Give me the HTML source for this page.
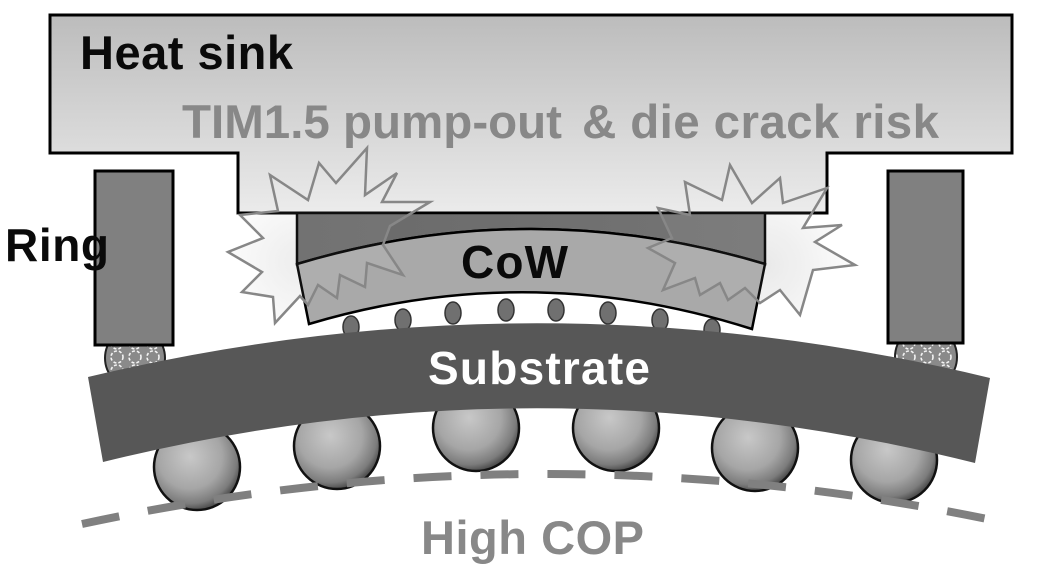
<!DOCTYPE html>
<html>
<head>
<meta charset="utf-8">
<style>
  html,body{margin:0;padding:0;background:#ffffff;}
  svg{display:block;}
  text{font-family:"Liberation Sans",Arial,sans-serif;font-weight:bold;}
</style>
</head>
<body>
<svg width="1043" height="568" viewBox="0 0 1043 568" xmlns="http://www.w3.org/2000/svg">
  <defs>
    <linearGradient id="hs" gradientUnits="userSpaceOnUse" x1="0" y1="15" x2="0" y2="213">
      <stop offset="0" stop-color="#bcbcbc"/>
      <stop offset="1" stop-color="#ebebeb"/>
    </linearGradient>
    <radialGradient id="ball" cx="0.42" cy="0.38" r="0.62">
      <stop offset="0" stop-color="#c8c8c8"/>
      <stop offset="0.6" stop-color="#a6a6a6"/>
      <stop offset="0.88" stop-color="#7c7c7c"/>
      <stop offset="1" stop-color="#505050"/>
    </radialGradient>
    <radialGradient id="bl" gradientUnits="userSpaceOnUse" cx="300" cy="262" r="80">
      <stop offset="0" stop-color="#ececec"/>
      <stop offset="1" stop-color="#fdfdfd"/>
    </radialGradient>
    <radialGradient id="br" gradientUnits="userSpaceOnUse" cx="765" cy="265" r="90">
      <stop offset="0" stop-color="#e8e8e8"/>
      <stop offset="1" stop-color="#fdfdfd"/>
    </radialGradient>
    <linearGradient id="die" x1="0" y1="0" x2="1" y2="0">
      <stop offset="0" stop-color="#6a6a6a"/>
      <stop offset="1" stop-color="#747474"/>
    </linearGradient>
    <pattern id="chk" patternUnits="userSpaceOnUse" width="18" height="14">
      <rect width="18" height="14" fill="#8a8a8a"/>
      <circle cx="9" cy="7" r="6" fill="none" stroke="#f4f4f4" stroke-width="1.6" stroke-dasharray="3 2"/>
    </pattern>
  </defs>

  <!-- burst fills (behind) -->
  <polygon fill="url(#bl)" points="430,202 390,226 383,245 403,275 367,263 365,287 340,275 337,298 318,285 308,305 300,296 275,323 273,297 242,292 262,272 228,252 263,238 240,215 278,211 270,175 308,200 319,163 336,183 367,148 365,195 397,173 382,202"/>
  <polygon fill="url(#br)" points="685,182 722,200 730,165 752,203 780,178 783,203 827,188 803,228 842,225 815,242 855,265 813,270 800,315 780,290 760,303 745,288 728,300 720,283 700,295 695,278 663,290 675,263 648,248 672,238 658,208 690,215"/>

  <!-- heat sink -->
  <path d="M50,15 H1012 V153 H827 V213 H238 V153 H50 Z" fill="url(#hs)" stroke="#000" stroke-width="3" stroke-linejoin="miter"/>

  <!-- ring small balls -->
  <circle cx="135" cy="358" r="30" fill="url(#chk)" stroke="#222" stroke-width="2"/>
  <circle cx="926" cy="357" r="31" fill="url(#chk)" stroke="#222" stroke-width="2"/>

  <!-- ring boxes -->
  <rect x="95" y="171" width="78" height="174" fill="#808080" stroke="#000" stroke-width="3"/>
  <rect x="888" y="171" width="75" height="172" fill="#808080" stroke="#000" stroke-width="3"/>

  <!-- BGA balls -->
  <g fill="url(#ball)" stroke="#111" stroke-width="2.5">
    <circle cx="197" cy="467" r="43"/>
    <circle cx="337" cy="446" r="43"/>
    <circle cx="476" cy="428" r="43"/>
    <circle cx="616" cy="428" r="43"/>
    <circle cx="755" cy="448" r="43"/>
    <circle cx="894" cy="460" r="43"/>
  </g>

  <!-- micro bumps -->
  <g fill="#707070" stroke="#333" stroke-width="1.5">
    <ellipse cx="351" cy="327" rx="8" ry="11"/>
    <ellipse cx="403" cy="320" rx="8" ry="11"/>
    <ellipse cx="453" cy="313" rx="8" ry="11"/>
    <ellipse cx="506" cy="310" rx="8" ry="11"/>
    <ellipse cx="556" cy="310" rx="8" ry="11"/>
    <ellipse cx="608" cy="313" rx="8" ry="11"/>
    <ellipse cx="660" cy="320" rx="8" ry="11"/>
    <ellipse cx="712" cy="330" rx="8" ry="11"/>
  </g>

  <!-- die dark part -->
  <path d="M297,213 H765 V264 Q531,194 297,264 Z" fill="url(#die)" stroke="#000" stroke-width="2.5"/>
  <!-- CoW light part -->
  <path d="M297,264 Q531,194 765,264 L752,329 Q530,258 309,324 Z" fill="#a9a9a9" stroke="#000" stroke-width="2.5"/>

  <!-- substrate -->
  <path d="M88,377 Q539,269 990,378 L975,463 Q539,354 103,462 Z" fill="#575757"/>

  <!-- burst outlines -->
  <polygon fill="rgba(255,255,255,0.06)" stroke="#878787" stroke-width="2.5" stroke-linejoin="miter" points="430,202 390,226 383,245 403,275 367,263 365,287 340,275 337,298 318,285 308,305 300,296 275,323 273,297 242,292 262,272 228,252 263,238 240,215 278,211 270,175 308,200 319,163 336,183 367,148 365,195 397,173 382,202"/>
  <polygon fill="rgba(255,255,255,0.06)" stroke="#878787" stroke-width="2.5" stroke-linejoin="miter" points="685,182 722,200 730,165 752,203 780,178 783,203 827,188 803,228 842,225 815,242 855,265 813,270 800,315 780,290 760,303 745,288 728,300 720,283 700,295 695,278 663,290 675,263 648,248 672,238 658,208 690,215"/>

  <!-- dashed high COP curve -->
  <path d="M82,524 Q537,426 992,520" fill="none" stroke="#808080" stroke-width="8" stroke-dasharray="38 29"/>

  <!-- text -->
  <text x="80" y="69" font-size="47" fill="#0a0a0a" textLength="213">Heat sink</text>
  <text x="182" y="138" font-size="47.5" fill="#888888" textLength="380">TIM1.5 pump-out</text>
  <text x="582" y="138" font-size="47.5" fill="#888888" textLength="357">&amp; die crack risk</text>
  <text x="5" y="261" font-size="46" fill="#0a0a0a" textLength="104">Ring</text>
  <text x="461" y="278" font-size="46" fill="#0a0a0a" textLength="107">CoW</text>
  <text x="428" y="384" font-size="46" fill="#ffffff" textLength="222">Substrate</text>
  <text x="421" y="554" font-size="47" fill="#888888" textLength="223">High COP</text>
</svg>
</body>
</html>
